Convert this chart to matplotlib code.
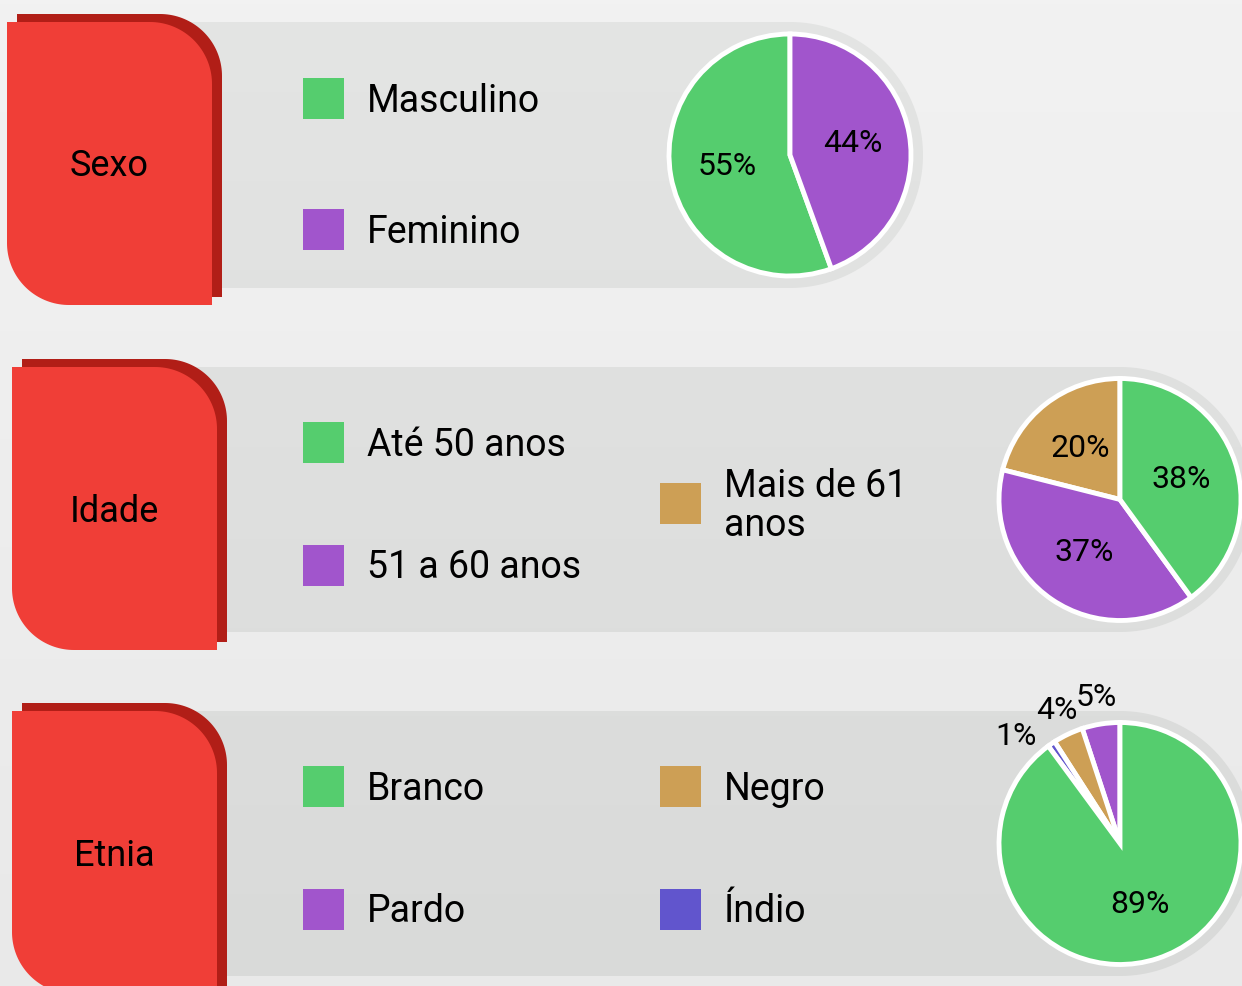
import numpy as np
import matplotlib.pyplot as plt
from matplotlib.path import Path
from matplotlib.patches import PathPatch, Rectangle

plt.rcParams['font.family'] = ['Roboto', 'DejaVu Sans']

W, H = 1242, 986

green = '#55CD6E'
purple = '#A155CC'
tan = '#CD9F55'
blue = '#6155CD'

# data
sexo_labels = ['Masculino', 'Feminino']
sexo_values = [55, 44]
sexo_colors = [green, purple]

idade_labels = ['Até 50 anos', '51 a 60 anos', 'Mais de 61\nanos']
idade_values = [38, 37, 20]
idade_colors = [green, purple, tan]

etnia_labels = ['Branco', 'Pardo', 'Negro', 'Índio']
etnia_values = [89, 5, 4, 1]
etnia_colors = [green, purple, tan, blue]

# layout (image pixel coords, y down)
panels = [
    dict(title='Sexo', labels=sexo_labels, values=sexo_values, colors=sexo_colors,
         order=[0, 1], tab=(7, 22), band=(22, 288), cx=790,
         legend=[(303, 98.5), (303, 229.5)]),
    dict(title='Idade', labels=idade_labels, values=idade_values, colors=idade_colors,
         order=[2, 1, 0], tab=(12, 367), band=(367, 632), cx=1120,
         legend=[(303, 442), (303, 565), (660, 503)]),
    dict(title='Etnia', labels=etnia_labels, values=etnia_values, colors=etnia_colors,
         order=[1, 2, 3, 0], tab=(12, 711), band=(711, 976), cx=1120,
         legend=[(303, 786), (303, 909), (660, 786), (660, 909)]),
]

TAB_W, TAB_H, TAB_R = 205, 283, 62
R = 121


def arc(cx, cy, r, a0, a1, n=40):
    t = np.radians(np.linspace(a0, a1, n))
    return np.column_stack([cx + r * np.cos(t), cy + r * np.sin(t)])


def tab_path(x0, ytop):
    top = H - ytop
    bot = top - TAB_H
    x1 = x0 + TAB_W
    pts = [[x0, top], [x1 - TAB_R, top]]
    pts += list(arc(x1 - TAB_R, top - TAB_R, TAB_R, 90, 0))
    pts += [[x1, bot], [x0 + TAB_R, bot]]
    pts += list(arc(x0 + TAB_R, bot + TAB_R, TAB_R, 270, 180))
    pts += [[x0, top]]
    return Path(np.array(pts), closed=True)


def band_path(y0, y1, cx):
    top, bot = H - y0, H - y1
    cy = (top + bot) / 2
    r = (top - bot) / 2
    pts = [[150, top], [cx, top]]
    pts += list(arc(cx, cy, r, 90, -90, 80))
    pts += [[150, bot], [150, top]]
    return Path(np.array(pts), closed=True)


fig = plt.figure(figsize=(W / 100, H / 100), dpi=100)
ax = fig.add_axes([0, 0, 1, 1])

# background gradient
g = np.linspace(0, 1, 256)[:, None]
bg = np.array([0xF2, 0xF2, 0xF2]) / 255 * (1 - g[..., None]) + np.array([0xE9, 0xE9, 0xE9]) / 255 * g[..., None]
ax.imshow(bg, extent=[0, W, 0, H], aspect='auto', zorder=0)
band_grad = np.array([0xE4, 0xE5, 0xE4]) / 255 * (1 - g[..., None]) + np.array([0xD9, 0xDA, 0xD9]) / 255 * g[..., None]

for p in panels:
    y0, y1 = p['band']
    cyd = H - (y0 + y1) / 2
    bp = PathPatch(band_path(y0, y1, p['cx']), facecolor='none', edgecolor='none', transform=ax.transData)
    ax.add_patch(bp)
    im = ax.imshow(band_grad, extent=[0, W, 0, H], aspect='auto', zorder=1)
    im.set_clip_path(bp)

    tx, ty = p['tab']
    ax.add_patch(PathPatch(tab_path(tx + 10, ty - 8), facecolor='#B11E17', edgecolor='none', zorder=2))
    ax.add_patch(PathPatch(tab_path(tx, ty), facecolor='#F03E37', edgecolor='none', zorder=3))
    ax.text(tx + TAB_W / 2, H - (ty + TAB_H / 2) - 3, p['title'], fontsize=26, ha='center', va='center', zorder=4)

    # legend
    for (lx, ly), lab, col in zip(p['legend'], p['labels'], p['colors']):
        ax.add_patch(Rectangle((lx, H - ly - 20.5), 41, 41, facecolor=col, edgecolor='none', zorder=4))
        ax.text(lx + 64, H - ly - 3, lab, fontsize=27, ha='left', va='center', linespacing=1.05, zorder=4)

    # pie
    vals = [p['values'][i] for i in p['order']]
    cols = [p['colors'][i] for i in p['order']]
    wedges, _ = ax.pie(vals, colors=cols, startangle=90, counterclock=True,
                       center=(p['cx'], cyd), radius=R,
                       wedgeprops=dict(edgecolor='white', linewidth=3.5, zorder=5))
    total = sum(vals)
    for w, v in zip(wedges, vals):
        th = np.radians((w.theta1 + w.theta2) / 2)
        if v / total > 0.1:
            d, ha, va = 0.53 * R, 'center', 'center'
        else:
            d = 1.22 * R
            if np.cos(th) < -0.5:
                ha, va = 'right', 'top'
            else:
                ha, va = 'center', 'center'
        ax.text(p['cx'] + d * np.cos(th), cyd + d * np.sin(th), f'{v}%', fontsize=23,
                ha=ha, va=va, zorder=6)

ax.set_xlim(0, W)
ax.set_ylim(0, H)
ax.set_aspect('auto')
ax.axis('off')

fig.savefig('out.png', dpi=100)
